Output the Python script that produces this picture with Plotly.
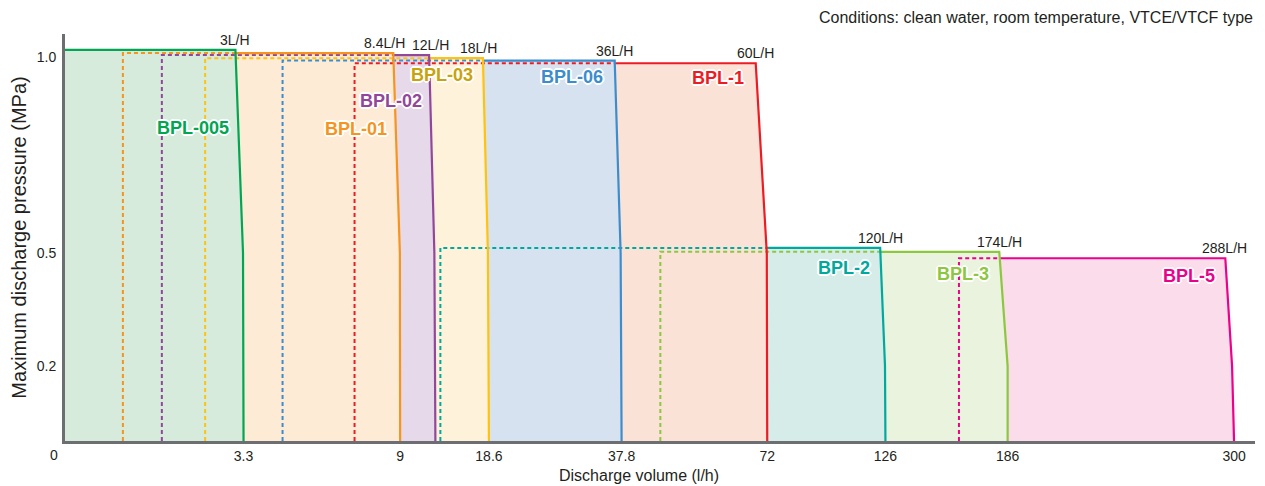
import numpy as np
import plotly.graph_objects as go

# ---------------- data ----------------
MODELS = ["BPL-005", "BPL-01", "BPL-02", "BPL-03", "BPL-06", "BPL-1", "BPL-2", "BPL-3", "BPL-5"]
RATED_LABELS = ["3L/H", "8.4L/H", "12L/H", "18L/H", "36L/H", "60L/H", "120L/H", "174L/H", "288L/H"]
# left (dashed) edge of each pump's range, l/h
MIN_FLOW = [0, 1.07, 1.79, 2.59, 4.72, 7.34, 13.35, 46.9, 162.1]
# top edge pressure of each range as drawn, MPa
TOP_PRESSURE = [1.018, 1.010, 1.005, 0.997, 0.991, 0.984, 0.513, 0.503, 0.486]
# flow at the top right corner, l/h
TOP_FLOW = [3.15, 8.75, 12.13, 17.95, 36.8, 69.3, 123.6, 181.9, 295.6]
# knee of the right edge
KNEE_PRESSURE = [0.5, 0.5, 0.5, 0.5, 0.5, 0.5, 0.2, 0.2, 0.2]
KNEE_FLOW = [3.29, 8.99, 12.70, 18.49, 37.66, 71.9, 125.8, 186.0, 299.0]
# flow where the right edge meets the baseline
ZERO_FLOW = [3.3, 9.0, 12.81, 18.6, 37.8, 72.0, 126.0, 186.0, 300.0]

X_TICKS = [3.3, 9, 18.6, 37.8, 72, 126, 186, 300]
X_TICK_LABELS = ["3.3", "9", "18.6", "37.8", "72", "126", "186", "300"]
Y_TICKS = [0.2, 0.5, 1.0]
Y_TICK_LABELS = ["0.2", "0.5", "1.0"]

# model name label anchors (data units)
NAME_FLOW = [2.36, 7.40, 8.67, 13.5, 30.6, 60.5, 107.1, 164.0, 277.4]
NAME_PRESSURE = [0.819, 0.817, 0.888, 0.953, 0.949, 0.946, 0.460, 0.443, 0.440]

# ---------------- styles ----------------
LINE_COLORS = ["#00a651", "#f7941d", "#92479b", "#ffc20e", "#3c8dcd", "#ed1c24", "#00a99d", "#8dc63f", "#ec008c"]
FILL_COLORS = ["#d6ebdc", "#fdebd6", "#e6d9ea", "#fef2da", "#d6e2f0", "#fbe2d6", "#d6ece9", "#e9f3dd", "#fbdcea"]
NAME_COLORS = ["#00a651", "#f7941d", "#92479b", "#c9a30c", "#3c8dcd", "#ed1c24", "#00a99d", "#8dc63f", "#ec008c"]
RATED_XSHIFT = [0, -9, 1, -4, 0, 0, 0, 0, -1]
AXIS_GRAY = "#6d6e71"
TEXT = "#231f20"
FONT = "Liberation Sans, Arial, sans-serif"

# ---------------- schematic (piecewise) axis scales ----------------
X_KNOTS = [0, 3.3, 9, 18.6, 37.8, 72, 126, 186, 300]
X_KNOT_POS = [0, 179, 336, 425, 558, 704, 822.5, 945, 1172]
Y_KNOTS = [0, 0.2, 0.5, 1.0]
Y_KNOT_POS = [0, 75, 188, 384]
X_RANGE = [0, 1193]
Y_RANGE = [0, 407]


def scale(v, knots, pos):
    v = np.asarray(v, dtype=float)
    out = np.interp(v, knots, pos)
    slope = (pos[-1] - pos[-2]) / (knots[-1] - knots[-2])
    return np.where(v > knots[-1], pos[-1] + (v - knots[-1]) * slope, out)


def sx(v):
    return scale(v, X_KNOTS, X_KNOT_POS)


def sy(v):
    return scale(v, Y_KNOTS, Y_KNOT_POS)


def right_edge_at(i, p):
    ps = [0, KNEE_PRESSURE[i], TOP_PRESSURE[i]]
    xs = sx([ZERO_FLOW[i], KNEE_FLOW[i], TOP_FLOW[i]])
    return float(np.interp(sy(p), sy(ps), xs))


fig = go.Figure()
n = len(MODELS)

# fills: largest model at the back
for i in reversed(range(n)):
    xs = sx([MIN_FLOW[i], MIN_FLOW[i], TOP_FLOW[i], KNEE_FLOW[i], ZERO_FLOW[i]])
    ys = sy([0, TOP_PRESSURE[i], TOP_PRESSURE[i], KNEE_PRESSURE[i], 0])
    fig.add_trace(go.Scatter(x=xs, y=ys, mode="lines", fill="toself",
                             fillcolor=FILL_COLORS[i], line=dict(width=0),
                             hoverinfo="skip", showlegend=False))

switch = [float(sx(MIN_FLOW[0]))] + [right_edge_at(i - 1, TOP_PRESSURE[i]) for i in range(1, n)]

# hidden parts of the outlines: dashed
for i in reversed(range(1, n)):
    xs = [sx(MIN_FLOW[i]), sx(MIN_FLOW[i]), switch[i]]
    ys = sy([0, TOP_PRESSURE[i], TOP_PRESSURE[i]])
    fig.add_trace(go.Scatter(x=np.array(xs, dtype=float), y=ys, mode="lines",
                             line=dict(color=LINE_COLORS[i], width=2, dash="4px,3px"),
                             hoverinfo="skip", showlegend=False))

# visible outlines: solid
for i in reversed(range(n)):
    xs = [switch[i]] + list(sx([TOP_FLOW[i], KNEE_FLOW[i], ZERO_FLOW[i]]))
    ys = sy([TOP_PRESSURE[i], TOP_PRESSURE[i], KNEE_PRESSURE[i], 0])
    fig.add_trace(go.Scatter(x=xs, y=ys, mode="lines",
                             line=dict(color=LINE_COLORS[i], width=2.2),
                             hoverinfo="skip", showlegend=False))

HALO = ("1px 1px 0 #fff, -1px -1px 0 #fff, 1px -1px 0 #fff, -1px 1px 0 #fff, "
        "2px 0 0 #fff, -2px 0 0 #fff, 0 2px 0 #fff, 0 -2px 0 #fff")

annotations = []
for i in range(n):
    annotations.append(dict(x=float(sx(TOP_FLOW[i])), y=float(sy(TOP_PRESSURE[i])),
                            text=RATED_LABELS[i], showarrow=False, xanchor="center",
                            yanchor="bottom", xshift=RATED_XSHIFT[i], yshift=0,
                            font=dict(family=FONT, size=14, color=TEXT)))
    annotations.append(dict(x=float(sx(NAME_FLOW[i])), y=float(sy(NAME_PRESSURE[i])),
                            text="<b>" + MODELS[i] + "</b>", showarrow=False,
                            xanchor="center", yanchor="middle",
                            font=dict(family=FONT, size=18, color=NAME_COLORS[i], shadow=HALO)))

annotations.append(dict(x=float(sx(0)), y=0, xref="x", yref="paper", text="0",
                        showarrow=False, xanchor="center", yanchor="top",
                        xshift=-11, yshift=-4, font=dict(family=FONT, size=14, color=TEXT)))
annotations.append(dict(x=1, y=1.04, xref="paper", yref="paper",
                        text="Conditions: clean water, room temperature, VTCE/VTCF type",
                        showarrow=False, xanchor="right", yanchor="middle",
                        font=dict(family=FONT, size=16, color=TEXT)))
# x-axis title (sits left of the plot centre in the reference)
annotations.append(dict(x=0.482, y=-0.084, xref="paper", yref="paper",
                        text="Discharge volume (l/h)", showarrow=False,
                        xanchor="center", yanchor="middle", borderpad=0,
                        font=dict(family=FONT, size=16, color=TEXT)))

fig.update_layout(
    width=1257, height=478,
    margin=dict(l=54, r=10, t=26, b=45),
    paper_bgcolor="white", plot_bgcolor="white",
    font=dict(family=FONT, size=14, color=TEXT),
    annotations=annotations,
    xaxis=dict(range=X_RANGE, tickvals=list(sx(X_TICKS)), ticktext=X_TICK_LABELS,
               showgrid=False, zeroline=False, showline=True, linecolor=AXIS_GRAY,
               linewidth=3, ticks="", tickfont=dict(size=14, color=TEXT)),
    yaxis=dict(range=Y_RANGE, tickvals=list(sy(Y_TICKS)), ticktext=Y_TICK_LABELS,
               showgrid=False, zeroline=False, showline=True, linecolor=AXIS_GRAY,
               linewidth=3, ticks="", tickfont=dict(size=14, color=TEXT),
               ticklabelstandoff=3,
               title=dict(text="Maximum discharge pressure (MPa)",
                          font=dict(size=20, color=TEXT), standoff=5)),
)

fig.write_html("out.html")
